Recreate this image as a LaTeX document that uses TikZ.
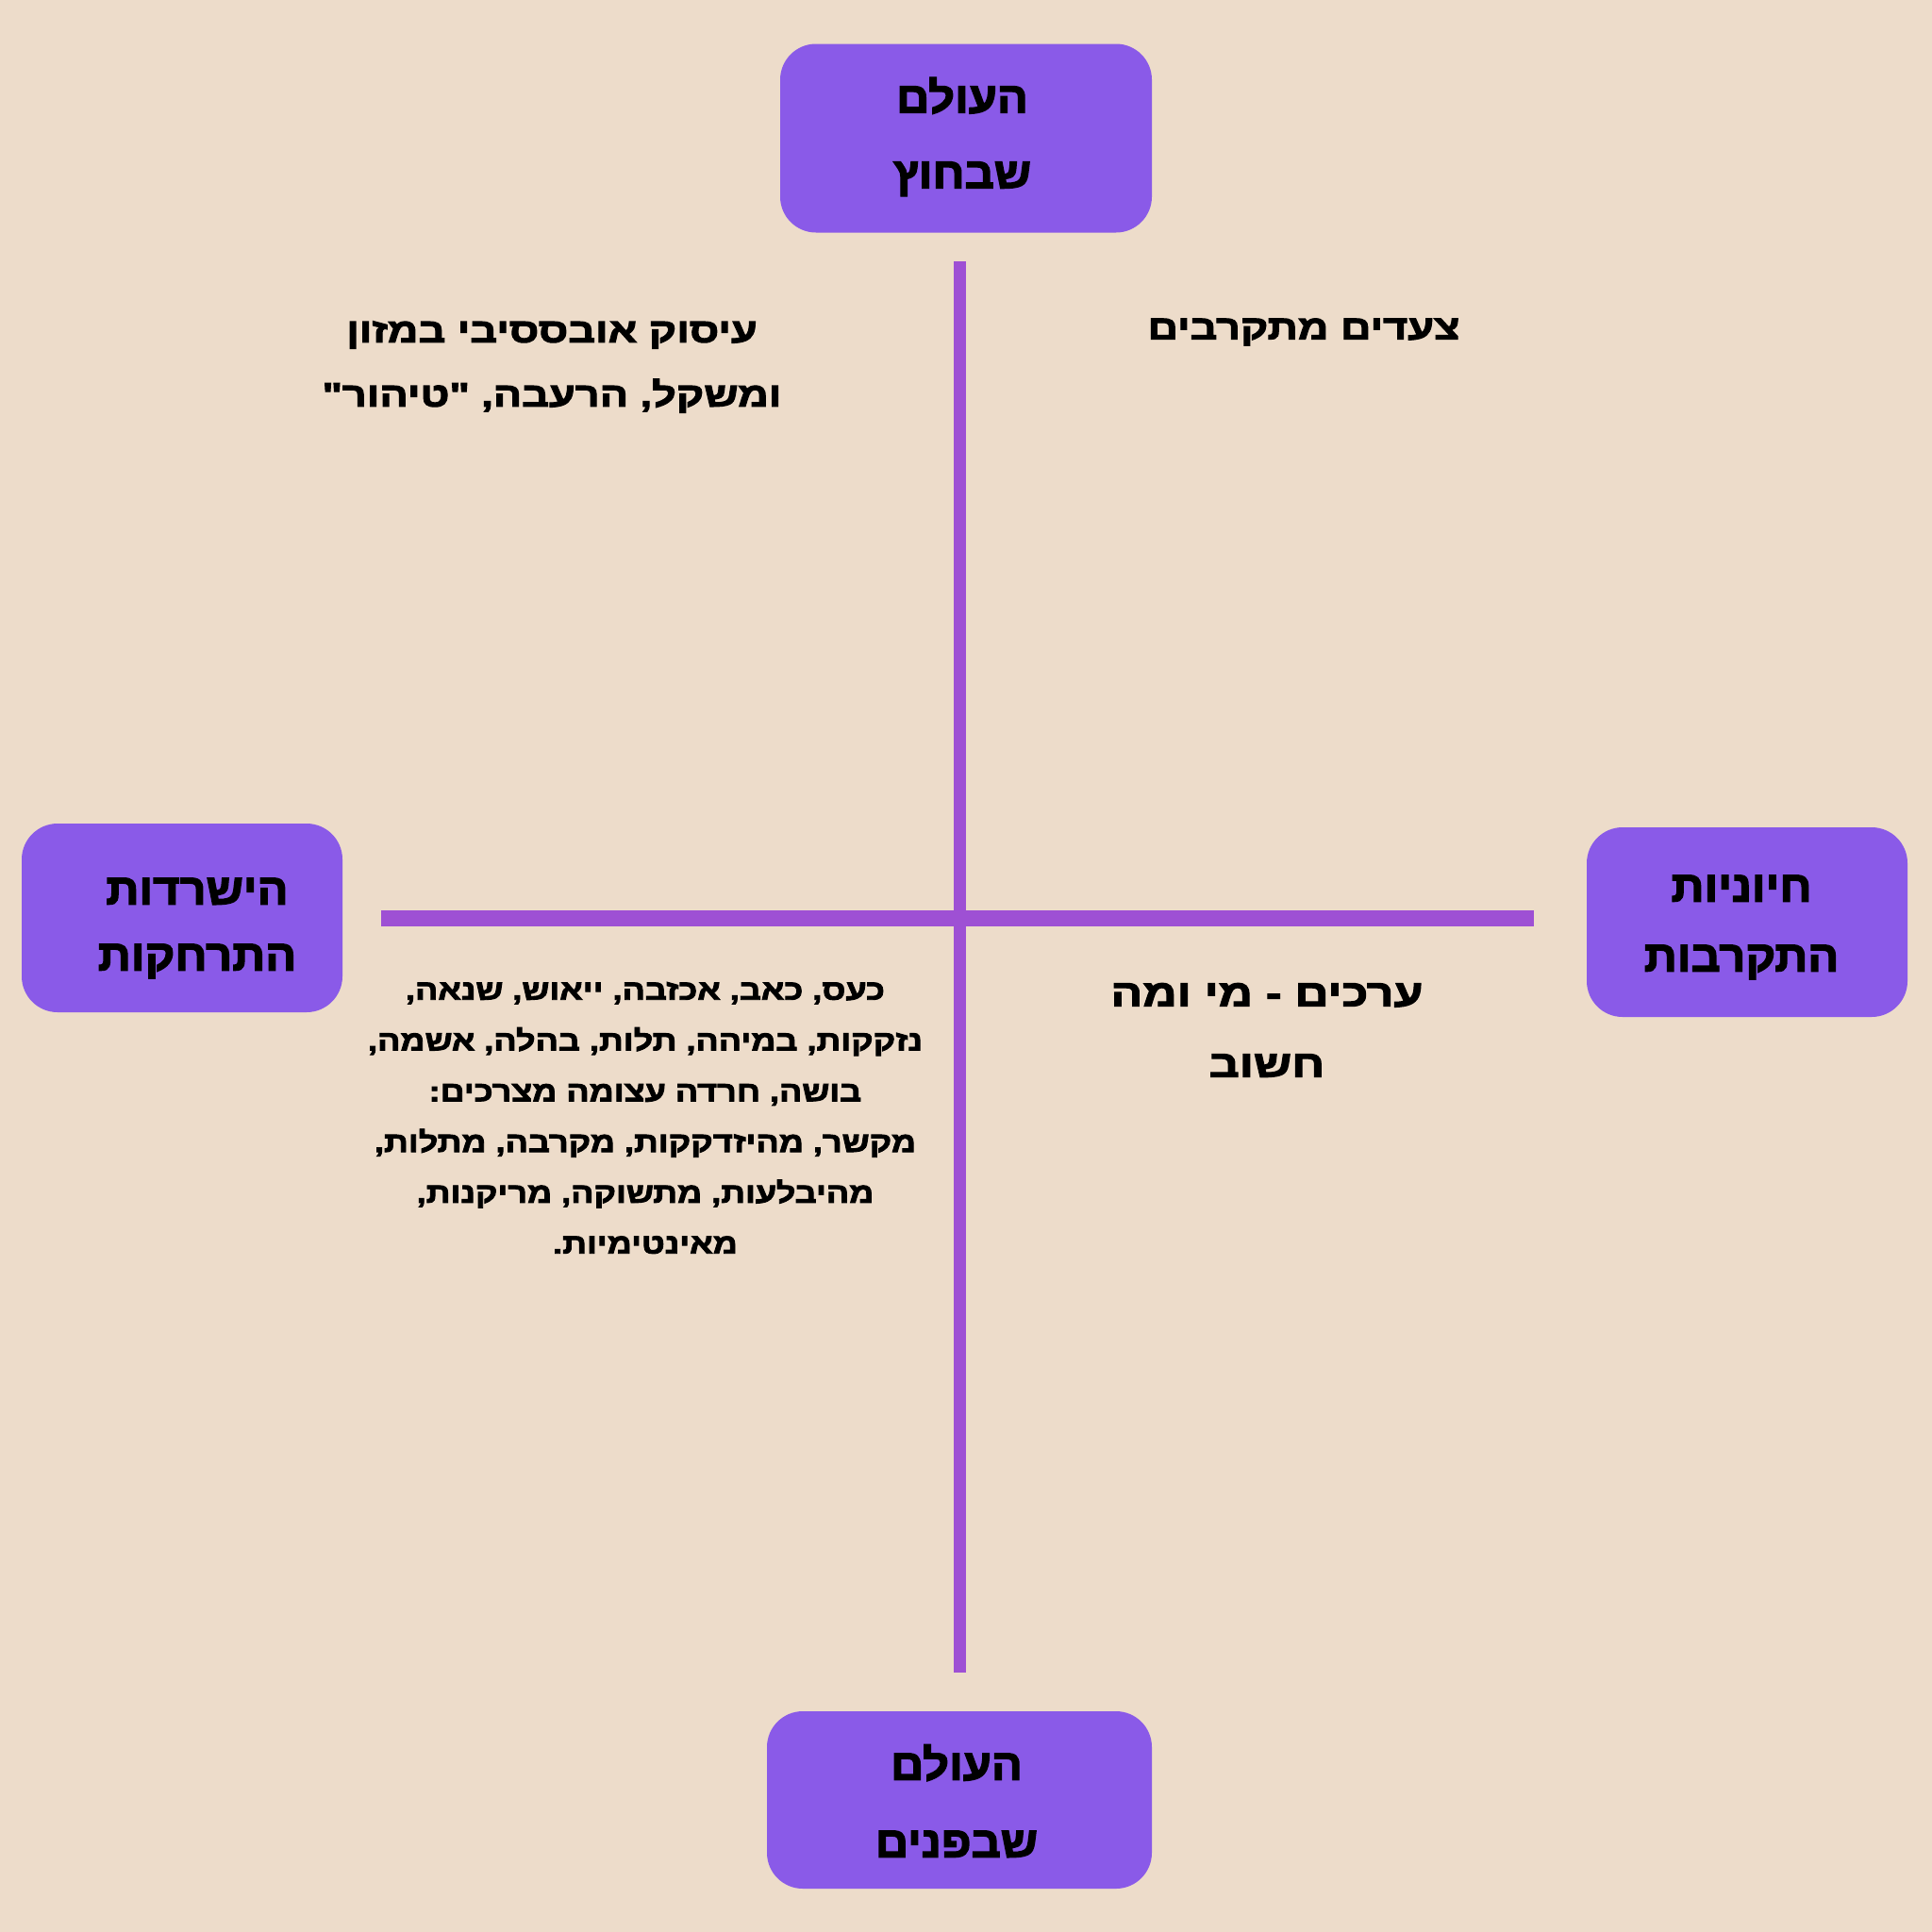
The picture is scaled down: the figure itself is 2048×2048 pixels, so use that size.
\documentclass[tikz,border=0pt]{standalone}
\usepackage{fontspec}
\TeXXeTstate=1
\newfontfamily\hebquad[Script=Hebrew,FakeStretch=1.25,BoldFeatures={FakeBold=3}]{Liberation Sans}
\newfontfamily\hebsmall[Script=Hebrew,FakeStretch=1.2,BoldFeatures={FakeBold=3}]{Liberation Sans}
\newfontfamily\hebbox[Script=Hebrew,FakeStretch=1.06,BoldFeatures={FakeBold=3}]{Liberation Sans}
\newcommand{\hebline}[1]{\beginR #1\endR}
\definecolor{bgcol}{HTML}{EDDCCA}
\definecolor{boxcol}{HTML}{8A5AE8}
\definecolor{linecol}{HTML}{9E50D4}
\begin{document}
\begin{tikzpicture}[x=1pt,y=-1pt,
  pole/.style={fill=boxcol,rounded corners=38pt,inner sep=0pt,align=center},
  polefont/.style={align=center,inner sep=0pt,font=\hebbox\bfseries\fontsize{46}{#1}\selectfont},
  axis/.style={draw=linecol,line width=#1},
  quad/.style={align=center,inner sep=0pt,font=\hebquad\bfseries\fontsize{36}{68}\selectfont},
  small/.style={align=center,inner sep=0pt,font=\hebsmall\bfseries\fontsize{30}{53.8}\selectfont}]
\fill[bgcol] (0,0) rectangle (2048,2048);
\useasboundingbox (0,0) rectangle (2048,2048);
% axes
\coordinate (vt) at (1017.5,277);
\coordinate (vb) at (1017.5,1773);
\coordinate (hl) at (404,973.5);
\coordinate (hr) at (1626,973.5);
\draw[axis=12.5pt] (vt) -- (vb);
\draw[axis=17pt] (hl) -- (hr);
% pole boxes
\node[pole,minimum width=394pt,minimum height=200pt] (top) at (1024,146.5) {};
\node[polefont=80] (toptext) at (1020,145) {\hebline{העולם}\\\hebline{שבחוץ}};
\node[pole,minimum width=408pt,minimum height=188pt] (bottom) at (1017,1908) {};
\node[polefont=82] (bottomtext) at (1014,1909) {\hebline{העולם}\\\hebline{שבפנים}};
\node[pole,minimum width=340pt,minimum height=200pt] (left) at (193,973) {};
\node[polefont=70] (lefttext) at (209,984) {\hebline{הישרדות}\\\hebline{התרחקות}};
\node[pole,minimum width=340pt,minimum height=201pt] (right) at (1852,977.5) {};
\node[polefont=74] (righttext) at (1846,983) {\hebline{חיוניות}\\\hebline{התקרבות}};
% quadrant texts
\node[quad] (tl) at (585,389) {\hebline{עיסוק אובססיבי במזון}\\\hebline{ומשקל, הרעבה, "טיהור"}};
\node[quad] (tr) at (1382,352) {\hebline{צעדים מתקרבים}};
\node[quad,font=\hebquad\bfseries\fontsize{40}{75}\selectfont] (br) at (1343,1092)
  {\hebline{ערכים - מי ומה}\\\hebline{חשוב}};
\node[small] (bl) at (684,1185)
  {\hebline{כעס, כאב, אכזבה, ייאוש, שנאה,}\\
   \hebline{נזקקות, במיהה, תלות, בהלה, אשמה,}\\
   \hebline{בושה, חרדה עצומה מצרכים:}\\
   \hebline{מקשר, מהיזדקקות, מקרבה, מתלות,}\\
   \hebline{מהיבלעות, מתשוקה, מריקנות,}\\
   \hebline{מאינטימיות.}};
\end{tikzpicture}
\end{document}
